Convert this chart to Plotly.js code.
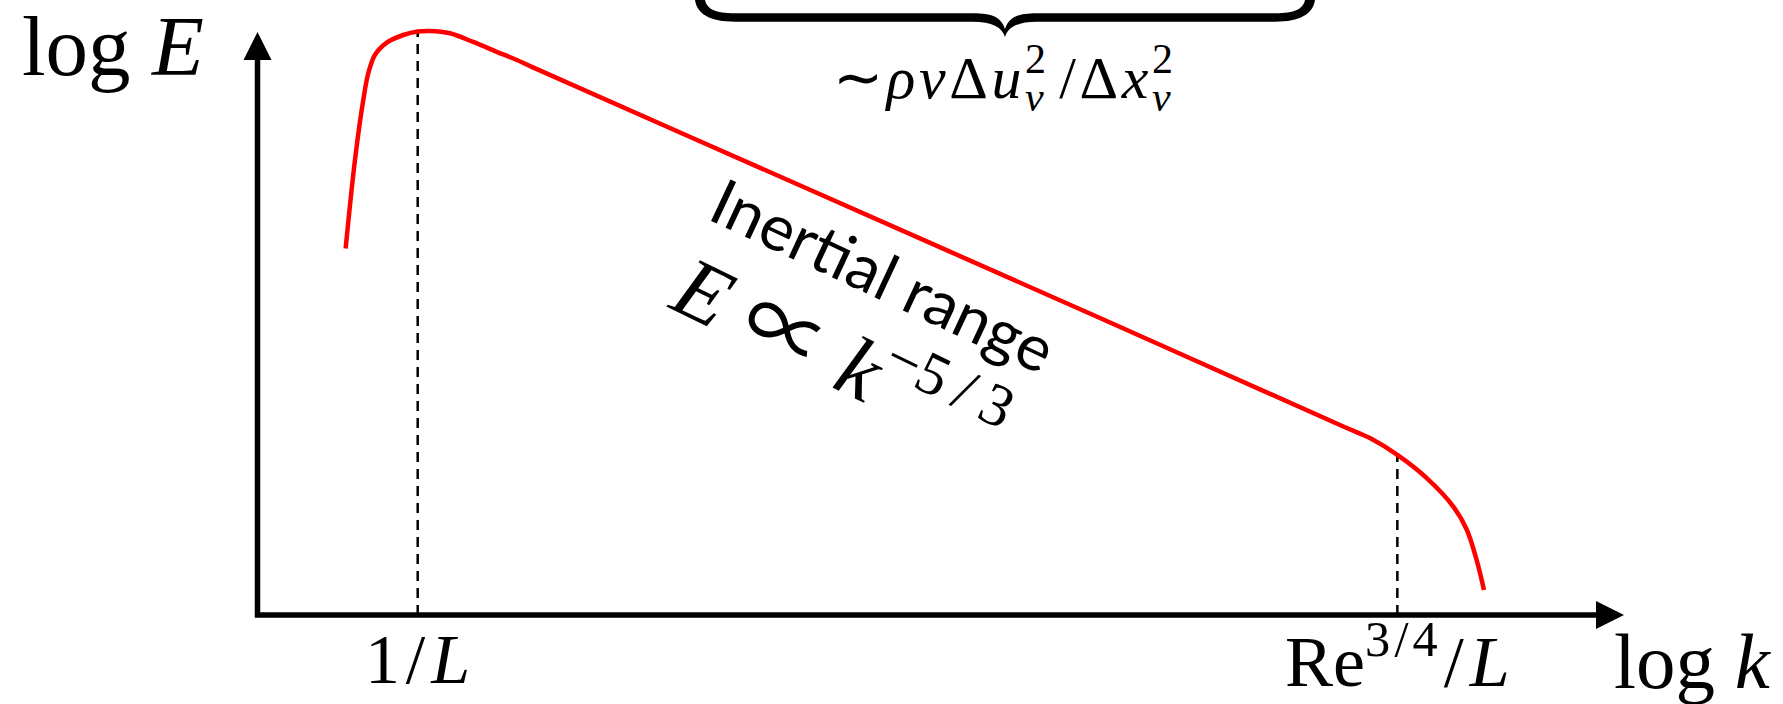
<!DOCTYPE html>
<html>
<head>
<meta charset="utf-8">
<script src="https://cdn.plot.ly/plotly-3.0.1.min.js"></script>
<style>
  html, body { margin: 0; padding: 0; background: #ffffff; }
  #chart { width: 1783px; height: 704px; }
</style>
</head>
<body>
<div id="chart"></div>
<script>
// Schematic turbulent kinetic energy spectrum on log-log axes.
// Units: decades of k (k = 1/L at 0, Re = 1e6 so Re^{3/4}/L at 4.5) and decades of E.

// ---- data ----------------------------------------------------------------
const logK = [-0.331, -0.288, -0.250, -0.227, -0.196, -0.142, -0.066, 0.000, 0.057, 0.148,
              0.255, 0.363, 0.455, 0.524, 1.573, 3.134, 4.252, 4.374, 4.500, 4.635,
              4.757, 4.819, 4.864, 4.898];
const logE = [6.32, 7.85, 8.88, 9.34, 9.66, 9.87, 10.00, 10.06, 10.07, 10.03,
              9.88, 9.71, 9.57, 9.45, 7.71, 5.12, 3.25, 3.05, 2.76, 2.36,
              1.87, 1.47, 0.95, 0.43];

// marked wavenumbers: integral scale and Kolmogorov scale
const markK = [0, 4.5];
const markE = [10.06, 2.76];
const markLabels = ['1\u200A/\u200A<i>L</i>', 'Re<sup>3\u200A/\u200A4</sup>\u200A/\u200A<i>L</i>'];

const axisLabels = ['log <i>k</i>', 'log <i>E</i>'];
const rangeLabel = 'Inertial range';
const lawLabel = '<i>E</i> <span style="font-family:Noto Sans CJK JP">\u221D</span> ' +
                 '<i>k</i><sup>\u22125\u2009/\u20093</sup>';
const dissLabel = '<span style="letter-spacing:0.06em">\u223C<i>\u03C1\u03BD</i>\u0394<i>u</i></span>' +
                  '<sup><span style="letter-spacing:-0.5em">2</span></sup><sub><i>\u03BD</i></sub>' +
                  '<span style="letter-spacing:0.06em">\u2009/\u0394<i>x</i></span>' +
                  '<sup><span style="letter-spacing:-0.5em">2</span></sup><sub><i>\u03BD</i></sub>';

// ---- frame ---------------------------------------------------------------
const W = 1783, H = 704;
const PX_K = 217.7, PX_E = 58;        // pixels per decade
const K0_PX = 417.7, E0_PX = 615;     // screen position of k = 1/L and of the k axis
const kAt = px => (px - K0_PX) / PX_K;
const eAt = py => (E0_PX - py) / PX_E;

const kAxis = kAt(257.5);             // position of the E axis
const kTip = kAt(1624);               // tip of the k arrow
const eTip = eAt(32);                 // tip of the E arrow
const HEAD = 28;                      // arrowhead length in px

const serif = 'Liberation Serif, Times New Roman, serif';
const ink = '#000000';

// ---- traces --------------------------------------------------------------
const axesTrace = {
  x: [kAxis, kAxis, kTip - (HEAD - 1) / PX_K],
  y: [eTip - (HEAD - 1) / PX_E, 0, 0],
  mode: 'lines',
  line: { color: ink, width: 5.5 },
  hoverinfo: 'skip'
};

const guideX = [], guideY = [];
markK.forEach((k, i) => { guideX.push(k, k, null); guideY.push(0, markE[i], null); });
const guideTrace = {
  x: guideX, y: guideY,
  mode: 'lines',
  line: { color: ink, width: 2.5, dash: '10px,7px' },
  hoverinfo: 'skip'
};

const spectrum = {
  x: logK, y: logE,
  mode: 'lines',
  line: { color: '#ff0000', width: 4.5, shape: 'spline', smoothing: 1 },
  hoverinfo: 'skip'
};

// ---- decorations ---------------------------------------------------------
const P = (px, py) => kAt(px) + ',' + eAt(py);
const bracePath = [
  'M', P(695, 0),
  'C', P(697, 14), P(710, 21.7), P(735, 21.7),
  'L', P(973, 21.7),
  'C', P(992, 21.7), P(1002, 27), P(1005, 37),
  'C', P(1008, 27), P(1018, 21.7), P(1037, 21.7),
  'L', P(1275, 21.7),
  'C', P(1300, 21.7), P(1313, 14), P(1315, 0),
  'L', P(1305, 0),
  'C', P(1303, 9), P(1295, 13.3), P(1275, 13.3),
  'L', P(1037, 13.3),
  'C', P(1018, 13.3), P(1009, 17), P(1005, 29),
  'C', P(1001, 17), P(992, 13.3), P(973, 13.3),
  'L', P(735, 13.3),
  'C', P(715, 13.3), P(707, 9), P(705, 0),
  'Z'
].join(' ');

const shapes = [
  { type: 'path', xref: 'x', yref: 'y', xsizemode: 'pixel', ysizemode: 'pixel',
    xanchor: kTip, yanchor: 0, path: 'M0,0 L' + (-HEAD) + ',14 L' + (-HEAD) + ',-14 Z',
    fillcolor: ink, line: { width: 0 } },
  { type: 'path', xref: 'x', yref: 'y', xsizemode: 'pixel', ysizemode: 'pixel',
    xanchor: kAxis, yanchor: eTip, path: 'M0,0 L-14,' + (-HEAD) + ' L14,' + (-HEAD) + ' Z',
    fillcolor: ink, line: { width: 0 } },
  { type: 'path', xref: 'x', yref: 'y', path: bracePath,
    fillcolor: ink, line: { width: 0 } }
];

const note = (text, x, y, size, extra) => Object.assign({
  text: text, x: x, y: y, xref: 'x', yref: 'y', showarrow: false,
  xanchor: 'center', yanchor: 'middle',
  font: { family: serif, size: size, color: ink }
}, extra || {});

const annotations = [
  note(axisLabels[1], kAt(113), eAt(46), 85),
  note(axisLabels[0], kAt(1693), eAt(661), 79),
  note(markLabels[0], markK[0], eAt(659), 70),
  note(markLabels[1], markK[1], eAt(656), 72),
  note(dissLabel, kAt(1002), eAt(82), 60),
  note(rangeLabel, kAt(884), eAt(274), 64,
       { textangle: 25, font: { family: 'Lato, Open Sans, sans-serif', size: 64, color: ink } }),
  note(lawLabel, kAt(842), eAt(350), 86, { textangle: 26 })
];

const hidden = { visible: false, fixedrange: true, showgrid: false, zeroline: false };

const layout = {
  width: W, height: H,
  margin: { l: 0, r: 0, t: 0, b: 0, pad: 0 },
  paper_bgcolor: '#ffffff', plot_bgcolor: '#ffffff',
  showlegend: false,
  xaxis: Object.assign({ range: [kAt(0), kAt(W)] }, hidden),
  yaxis: Object.assign({ range: [eAt(H), eAt(0)] }, hidden),
  shapes: shapes,
  annotations: annotations
};

Plotly.newPlot('chart', [axesTrace, guideTrace, spectrum], layout,
               { displayModeBar: false, staticPlot: true });
</script>
</body>
</html>
